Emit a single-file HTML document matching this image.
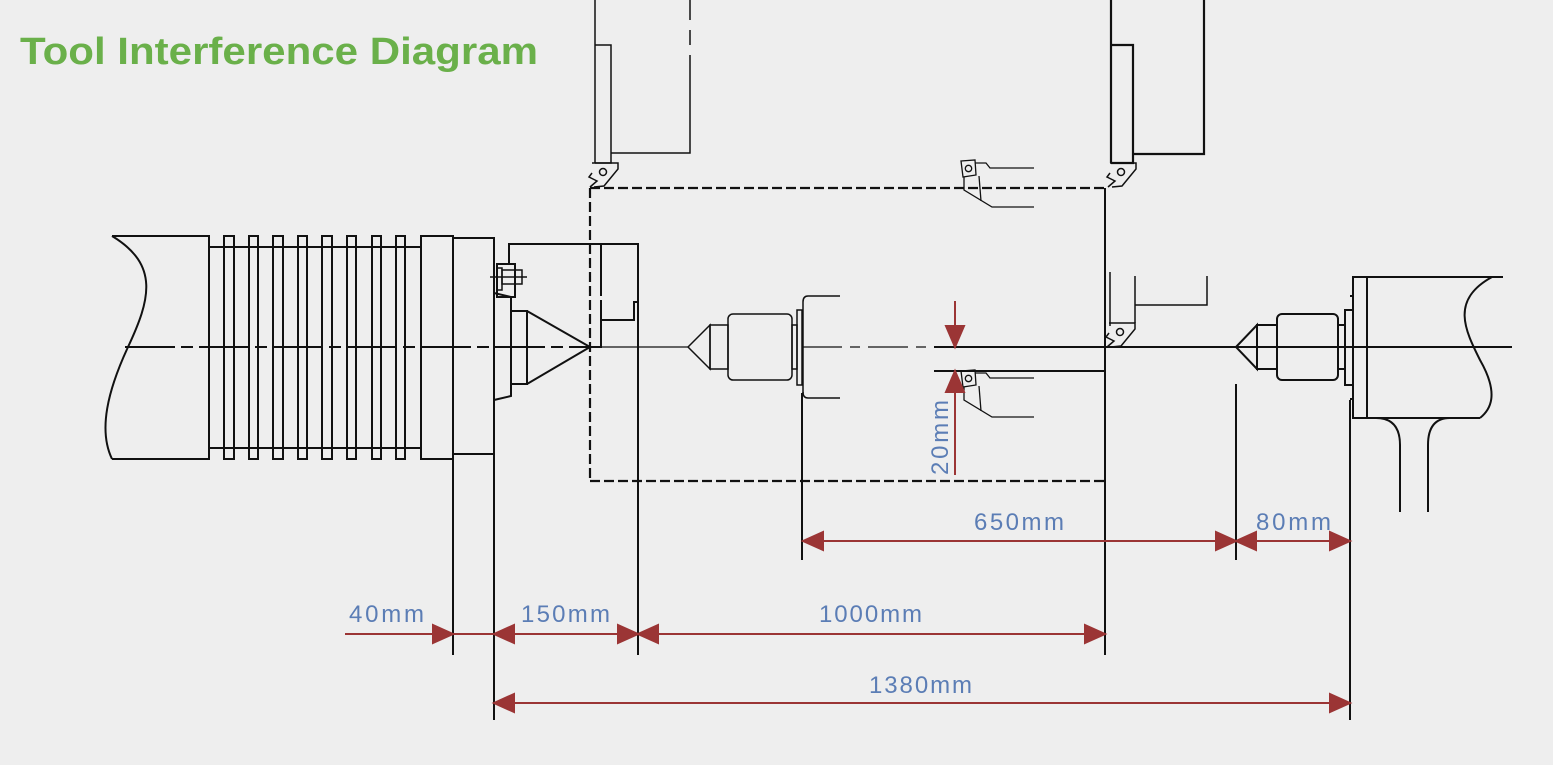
<!DOCTYPE html>
<html><head><meta charset="utf-8"><style>
html,body{margin:0;padding:0;background:#eeeeee;}
svg{display:block}
</style></head><body>
<svg width="1553" height="765" viewBox="0 0 1553 765" xmlns="http://www.w3.org/2000/svg">
<defs>
<g id="tool" fill="none" stroke="#111" stroke-width="1.3">
  <path d="M0,0 L14,-1 L15,14 L2,16 Z"/>
  <circle cx="7.5" cy="7.5" r="3.2"/>
  <path d="M14,2 L25,2 L29,7 L73,7"/>
  <path d="M3,16 L3,29 L31,46 L73,46"/>
  <path d="M18,15 L20,40"/>
</g>
<g id="insert" fill="none" stroke="#111" stroke-width="1.5">
  <path d="M0,0 L26,0 L26,6 L12,23 L2,24"/>
  <path d="M0,10 L-3,14 L5,18 L-2,24"/>
  <circle cx="11" cy="9" r="3.5"/>
</g>
</defs>
<rect width="1553" height="765" fill="#eeeeee"/>
<text x="20" y="64" font-family="Liberation Sans, sans-serif" font-weight="bold" font-size="38" fill="#6ab04a" textLength="518" lengthAdjust="spacingAndGlyphs">Tool Interference Diagram</text>

<g fill="none" stroke="#111" stroke-width="2">
<path d="M125,347 H600" stroke-dasharray="50,6,12,6" stroke-width="2"/>
<path d="M600,347 H688" stroke-width="1.2"/>
<path d="M802,347 H1000" stroke-dasharray="40,8,10,8" stroke-width="1.2"/>
<path d="M934,347 H1512" stroke-width="2"/>

<path d="M112,236 C160,265 150,300 128,347 C108,390 98,430 112,459"/>
<path d="M112,236 H209 V459 H112"/>
<path d="M209,247 H421 M209,448 H421"/>
<rect x="224" y="236" width="10" height="223"/>
<rect x="249" y="236" width="9" height="223"/>
<rect x="273" y="236" width="10" height="223"/>
<rect x="298" y="236" width="9" height="223"/>
<rect x="322" y="236" width="10" height="223"/>
<rect x="347" y="236" width="9" height="223"/>
<rect x="372" y="236" width="9" height="223"/>
<rect x="396" y="236" width="9" height="223"/>
<rect x="421" y="236" width="32" height="223"/>
<path d="M453,238 H494 M453,454 H494"/>
<path d="M453,454 V655"/>
<path d="M494,237 V720"/>
<path d="M509,264 V244 H638 V655"/>
<path d="M601,244 V296 M601,300 V348"/>
<path d="M601,320 H634 V302 H638"/>
<rect x="497" y="264" width="18" height="33"/>
<rect x="497" y="268" width="5" height="22" stroke-width="1.5"/>
<rect x="502" y="270" width="20" height="14" stroke-width="1.5"/>
<path d="M490,277 H527" stroke-width="1.5"/>
<path d="M494,293 L511,297 V396 L494,400"/>
<rect x="511" y="311" width="16" height="73"/>
<path d="M527,311 L590,347 L527,384"/>

<path d="M590,188 H1105 M590,481 H1105 M590,188 V481" stroke-dasharray="10,4" stroke-width="2.2"/>
<path d="M1105,188 V655"/>

<g stroke-width="1.5">
<path d="M688,347 L710,325 V369 Z"/>
<rect x="710" y="325" width="18" height="44"/>
<rect x="728" y="314" width="64" height="66" rx="5"/>
<rect x="792" y="325" width="5" height="44"/>
<rect x="797" y="310" width="5" height="75"/>
<path d="M840,296 H808 Q803,296 803,302 V393"/>
<path d="M840,398 H808 Q803,398 803,392"/>
</g>
<path d="M802,393 V560"/>

<path d="M934,371 H1105"/>

<g stroke-width="1.5">
<path d="M595,0 V163 M595,45 H611 V163 H595"/>
<path d="M611,153 H690 V55 M690,45 V30 M690,20 V0"/>
</g>
<use href="#insert" x="592" y="163"/>
<path d="M1111,0 V163" stroke-width="2.2"/>
<path d="M1111,45 H1133 V163 H1111 M1133,154 H1204 V0" stroke-width="2.2"/>
<use href="#insert" x="1110" y="163"/>
<g stroke-width="1.5">
<path d="M1110,272 V326 M1135,276 V323 M1135,305 H1207 V276"/>
</g>
<use href="#insert" x="1109" y="323"/>
<use href="#tool" x="961" y="161"/>
<use href="#tool" x="961" y="371"/>

<path d="M1236,347 L1257,325 V369 Z"/>
<rect x="1257" y="325" width="20" height="44"/>
<rect x="1277" y="314" width="61" height="66" rx="5"/>
<rect x="1338" y="325" width="7" height="44"/>
<rect x="1345" y="310" width="8" height="75"/>
<path d="M1350,296 H1353 V399 H1350"/>
<rect x="1353" y="277" width="14" height="141"/>
<path d="M1367,277 H1503 M1367,418 H1480"/>
<path d="M1492,277 C1450,300 1465,330 1480,360 C1500,395 1490,410 1480,418"/>
<path d="M1376,418 Q1400,418 1400,445 V512"/>
<path d="M1428,512 V445 Q1428,418 1450,418"/>
<path d="M1350,400 V720"/>
<path d="M1236,384 V560"/>
</g>

<g stroke="#9b3535" stroke-width="2" fill="#9b3535">
<path d="M955,301 V347 M955,371 V475" fill="none"/>
<path d="M955,347 L946,326 L964,326 Z"/>
<path d="M955,371 L946,392 L964,392 Z"/>

<path d="M803,541 H1350" fill="none"/>
<path d="M803,541 L823,532 L823,550 Z"/>
<path d="M1236,541 L1216,532 L1216,550 Z"/>
<path d="M1236,541 L1256,532 L1256,550 Z"/>
<path d="M1350,541 L1330,532 L1330,550 Z"/>

<path d="M345,634 H1105" fill="none"/>
<path d="M453,634 L433,625 L433,643 Z"/>
<path d="M494,634 L514,625 L514,643 Z"/>
<path d="M638,634 L618,625 L618,643 Z"/>
<path d="M638,634 L658,625 L658,643 Z"/>
<path d="M1105,634 L1085,625 L1085,643 Z"/>

<path d="M494,703 H1350" fill="none"/>
<path d="M494,703 L514,694 L514,712 Z"/>
<path d="M1350,703 L1330,694 L1330,712 Z"/>
</g>

<g font-family="Liberation Sans, sans-serif" font-size="24" fill="#5b7db5" lengthAdjust="spacingAndGlyphs">
<text x="974" y="530" textLength="90">650mm</text>
<text x="1256" y="530" textLength="75">80mm</text>
<text x="349" y="622" textLength="75">40mm</text>
<text x="521" y="622" textLength="89">150mm</text>
<text x="819" y="622" textLength="103">1000mm</text>
<text x="869" y="693" textLength="103">1380mm</text>
<text transform="translate(948,475) rotate(-90)" textLength="75">20mm</text>
</g>
</svg>
</body></html>
